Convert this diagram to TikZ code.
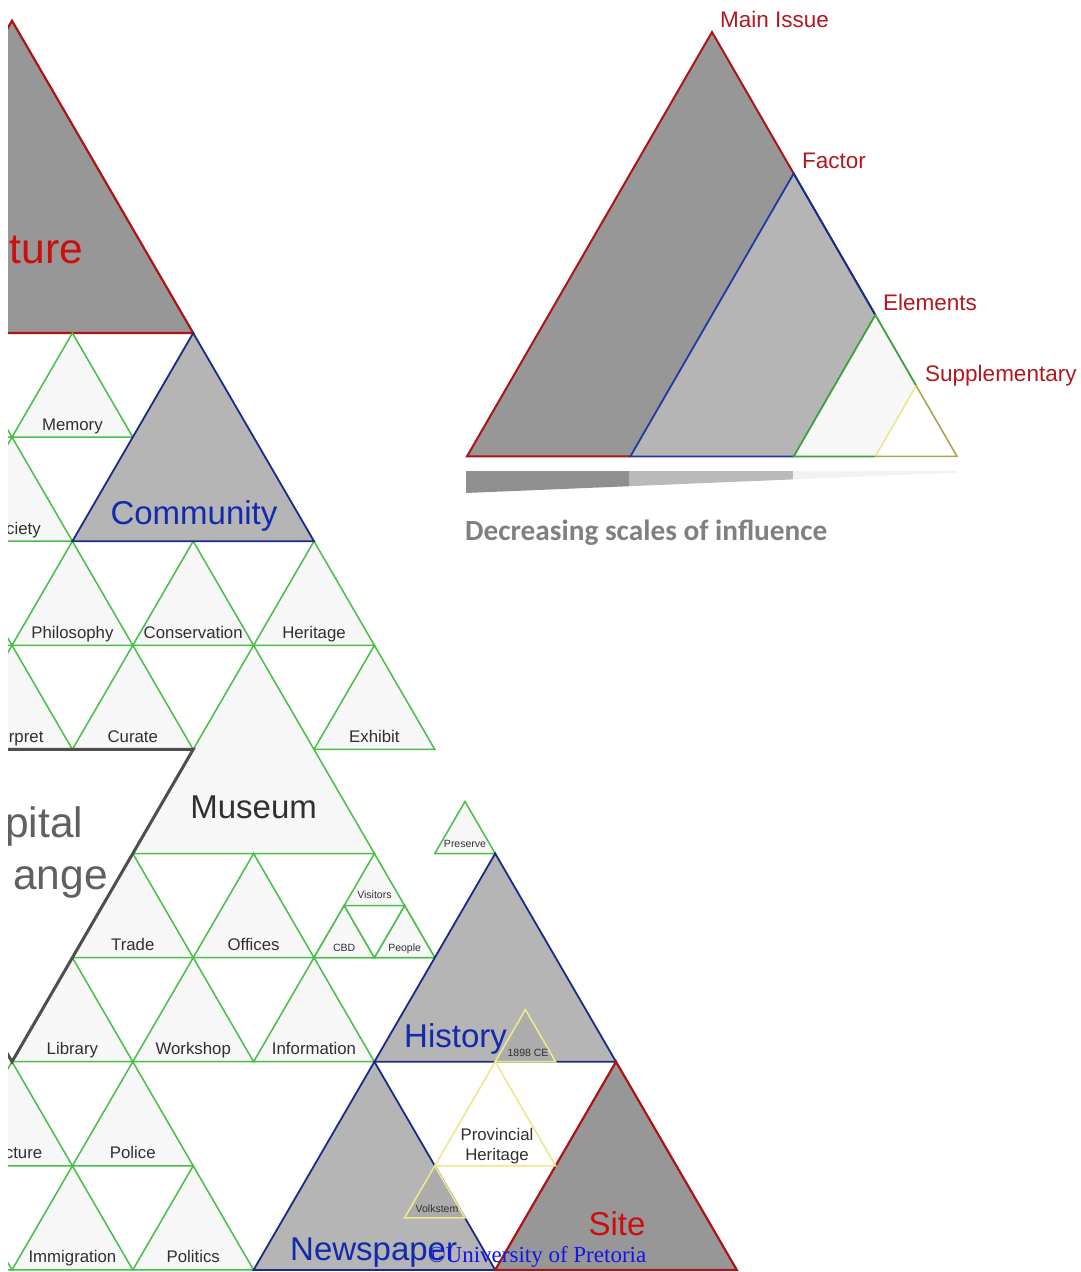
\documentclass[tikz,border=0pt]{standalone}
\usepackage{fontspec}
\setmainfont{Liberation Sans}
\newfontfamily\calfont{Carlito}
\newfontfamily\wmfont{Liberation Serif}

% palette
\definecolor{gridgreen}{RGB}{72,190,72}
\definecolor{cellfill}{RGB}{247,247,247}
\definecolor{factorgrey}{RGB}{181,181,181}
\definecolor{factorblue}{RGB}{28,42,135}
\definecolor{factortext}{RGB}{20,42,172}
\definecolor{issuegrey}{RGB}{151,151,151}
\definecolor{issuered}{RGB}{172,20,22}
\definecolor{issuetext}{RGB}{204,14,14}
\definecolor{suppyellow}{RGB}{236,232,140}
\definecolor{suppolive}{RGB}{170,165,80}
\definecolor{suppgrey}{RGB}{172,172,172}
\definecolor{exchangeline}{RGB}{78,78,78}
\definecolor{exchangetext}{RGB}{96,96,96}
\definecolor{labelgrey}{RGB}{48,48,48}
\definecolor{legendred}{RGB}{178,24,30}
\definecolor{legendblue}{RGB}{35,55,165}
\definecolor{legendgreen}{RGB}{60,160,60}
\definecolor{bardark}{RGB}{143,143,143}
\definecolor{barmid}{RGB}{186,186,186}
\definecolor{barlight}{RGB}{242,242,242}
\definecolor{captiongrey}{RGB}{128,128,128}
\definecolor{markblue}{RGB}{20,20,235}

% upward triangle: style, apex x, apex y, size in grid cells (y grows downwards)
\newcommand\UpTri[4]{\path[#1] (#2,#3) -- ++({-60.4*#4},{104.1*#4}) -- ++({120.8*#4},0) -- cycle;}

\tikzset{
  cell/.style={fill=cellfill, draw=gridgreen, line width=1.5pt},
  factorcell/.style={fill=factorgrey, draw=factorblue, line width=1.8pt},
  issuecell/.style={fill=issuegrey, draw=issuered, line width=2.2pt},
  suppcell/.style={fill=#1, draw=suppyellow, line width=1.6pt},
  lbl/.style={inner sep=0pt, anchor=base, text=labelgrey, font=\fontsize{16.8}{18}\selectfont},
  tinylbl/.style={lbl, font=\fontsize{10.5}{12}\selectfont},
  biglbl/.style={lbl, font=\fontsize{33}{36}\selectfont},
  factorlbl/.style={inner sep=0pt, anchor=base west, text=factortext, font=\fontsize{33}{36}\selectfont},
  issuelbl/.style={inner sep=0pt, text=issuetext, font=\fontsize{42.5}{44}\selectfont},
  exchangelbl/.style={inner sep=0pt, anchor=base west, text=exchangetext, font=\fontsize{42.5}{44}\selectfont},
  scalelbl/.style={inner sep=0pt, anchor=base west, text=legendred, font=\fontsize{22.5}{24}\selectfont},
}

\begin{document}
\begin{tikzpicture}[x=1pt, y=-1pt]
\fill[white] (0,0) rectangle (1081,1272);
\useasboundingbox (0,0) rectangle (1081,1272);

% ---------------- triangular grid ----------------
\begin{scope}
\clip (8,0) rectangle (1081,1272);

% main issue at the top left
\UpTri{issuecell}{12}{20.7}{3}

% element cells
\UpTri{cell}{-48.4}{333}{1}
\UpTri{cell}{72.4}{333}{1}
\UpTri{cell}{12}{437.1}{1}
\UpTri{cell}{-48.4}{541.2}{1}
\UpTri{cell}{72.4}{541.2}{1}
\UpTri{cell}{193.2}{541.2}{1}
\UpTri{cell}{314}{541.2}{1}
\UpTri{cell}{12}{645.3}{1}
\UpTri{cell}{132.8}{645.3}{1}
\UpTri{cell}{374.4}{645.3}{1}
\UpTri{cell}{253.6}{645.3}{2}
\UpTri{cell}{132.8}{853.5}{1}
\UpTri{cell}{253.6}{853.5}{1}
\UpTri{cell}{374.4}{853.5}{1}
\UpTri{cell}{344.2}{905.55}{0.5}
\UpTri{cell}{404.6}{905.55}{0.5}
\path[fill=white, draw=gridgreen, line width=1.5pt] (344.2,905.55) -- (404.6,905.55) -- (374.4,957.6) -- cycle;
\UpTri{cell}{465}{801.45}{0.5}
\UpTri{cell}{72.4}{957.6}{1}
\UpTri{cell}{193.2}{957.6}{1}
\UpTri{cell}{314}{957.6}{1}
\UpTri{cell}{12}{1061.7}{1}
\UpTri{cell}{132.8}{1061.7}{1}
\UpTri{cell}{-48.4}{1165.8}{1}
\UpTri{cell}{72.4}{1165.8}{1}
\UpTri{cell}{193.2}{1165.8}{1}

% capital exchange outline
\draw[exchangeline, line width=3pt] (-169.2,749.4) -- (193.2,749.4) -- (12,1061.7) -- cycle;

% factors
\UpTri{factorcell}{193.2}{333}{2}
\UpTri{factorcell}{495.2}{853.5}{2}
\UpTri{factorcell}{374.4}{1061.7}{2}

% site
\UpTri{issuecell}{616}{1061.7}{2}

% supplementary cells
\UpTri{suppcell=suppgrey}{525.4}{1009.65}{0.5}
\UpTri{suppcell=white}{495.2}{1061.7}{1}
\UpTri{suppcell=suppgrey}{434.8}{1165.8}{0.5}

% labels
\node[issuelbl, anchor=base west] (culture) at (9.5,263) {ture};
\node[exchangelbl] (capital) at (5,837) {pital};
\node[exchangelbl] (exchange) at (13,889) {ange};

\node[lbl] (memory) at (72.4,430.1) {Memory};
\node[lbl, anchor=base west] (society) at (6,534.2) {ciety};
\node[lbl] (philosophy) at (72.4,638.3) {Philosophy};
\node[lbl] (conservation) at (193.2,638.3) {Conservation};
\node[lbl] (heritage) at (314,638.3) {Heritage};
\node[lbl, anchor=base west] (interpret) at (8.7,742.4) {rpret};
\node[lbl] (curate) at (132.8,742.4) {Curate};
\node[lbl] (exhibit) at (374.4,742.4) {Exhibit};
\node[biglbl] (museum) at (253.6,818) {Museum};
\node[lbl] (trade) at (132.8,950.6) {Trade};
\node[lbl] (offices) at (253.6,950.6) {Offices};
\node[tinylbl] (visitors) at (374.4,898.5) {Visitors};
\node[tinylbl] (cbd) at (344.2,951) {CBD};
\node[tinylbl] (people) at (404.6,951) {People};
\node[tinylbl] (preserve) at (465,847.5) {Preserve};
\node[lbl] (library) at (72.4,1054.7) {Library};
\node[lbl] (workshop) at (193.2,1054.7) {Workshop};
\node[lbl] (information) at (314,1054.7) {Information};
\node[lbl, anchor=base west] (structure) at (4.7,1158.8) {cture};
\node[lbl] (police) at (132.8,1158.8) {Police};
\node[lbl] (immigration) at (72.4,1262.9) {Immigration};
\node[lbl] (politics) at (193.2,1262.9) {Politics};
\node[tinylbl] (ce) at (528,1056) {1898 CE};
\node[tinylbl] (volkstem) at (437,1212) {Volkstem};
\node[lbl] (provincial) at (497,1140) {Provincial};
\node[lbl] (provheritage) at (497,1160) {Heritage};

\node[factorlbl, anchor=base] (community) at (194,524) {Community};
\node[factorlbl] (history) at (404,1047) {History};
\node[factorlbl] (newspaper) at (290,1260) {Newspaper};
\node[issuelbl, anchor=base, font=\fontsize{33}{36}\selectfont] (site) at (617,1235) {Site};
\end{scope}

% ---------------- legend ----------------
\coordinate (L) at (467,456.4);
\coordinate (T) at (712,32);
\coordinate (R) at (957,456.4);
\coordinate (F0) at (630.33,456.4);
\coordinate (F1) at (793.67,173.5);
\coordinate (E0) at (793.67,456.4);
\coordinate (E1) at (875.33,314.9);
\coordinate (S0) at (875.33,456.4);
\coordinate (S1) at (916.17,385.7);

\fill[issuegrey] (L) -- (T) -- (R) -- cycle;
\fill[factorgrey] (F0) -- (F1) -- (R) -- cycle;
\fill[cellfill] (E0) -- (E1) -- (R) -- cycle;
\fill[white] (S0) -- (S1) -- (R) -- cycle;

\draw[issuered, line width=2pt] (F0) -- (L) -- (T) -- (F1);
\draw[legendblue, line width=1.8pt] (E0) -- (F0) -- (F1) -- (E1);
\draw[factorblue, line width=1.8pt] (F1) -- (E1);
\draw[legendgreen, line width=1.8pt] (S0) -- (E0) -- (E1) -- (S1);
\draw[suppyellow, line width=1.6pt] (S0) -- (S1);
\draw[suppolive, line width=1.6pt] (S1) -- (R) -- (S0);

\node[scalelbl] (mainissue) at (720,27) {Main Issue};
\node[scalelbl] (factor) at (802,168) {Factor};
\node[scalelbl] (elements) at (883,310) {Elements};
\node[scalelbl] (supplementary) at (925,381) {Supplementary};

% tapering scale bar
\fill[bardark] (466,471) -- (629.6,471) -- (629.6,486.2) -- (466,493) -- cycle;
\fill[barmid] (629.6,471) -- (793,471) -- (793,479.4) -- (629.6,486.2) -- cycle;
\fill[barlight] (793,471) -- (957,471) -- (957,472.6) -- (793,479.4) -- cycle;

\node[inner sep=0pt, anchor=base west, text=captiongrey, font=\calfont\bfseries\fontsize{29.3}{32}\selectfont] (caption) at (465,540) {Decreasing scales of influence};

% credit line
\node[inner sep=0pt, anchor=base west, text=markblue, font=\wmfont\fontsize{23}{25}\selectfont] (credit) at (428,1262) {©University of Pretoria};
\end{tikzpicture}
\end{document}
